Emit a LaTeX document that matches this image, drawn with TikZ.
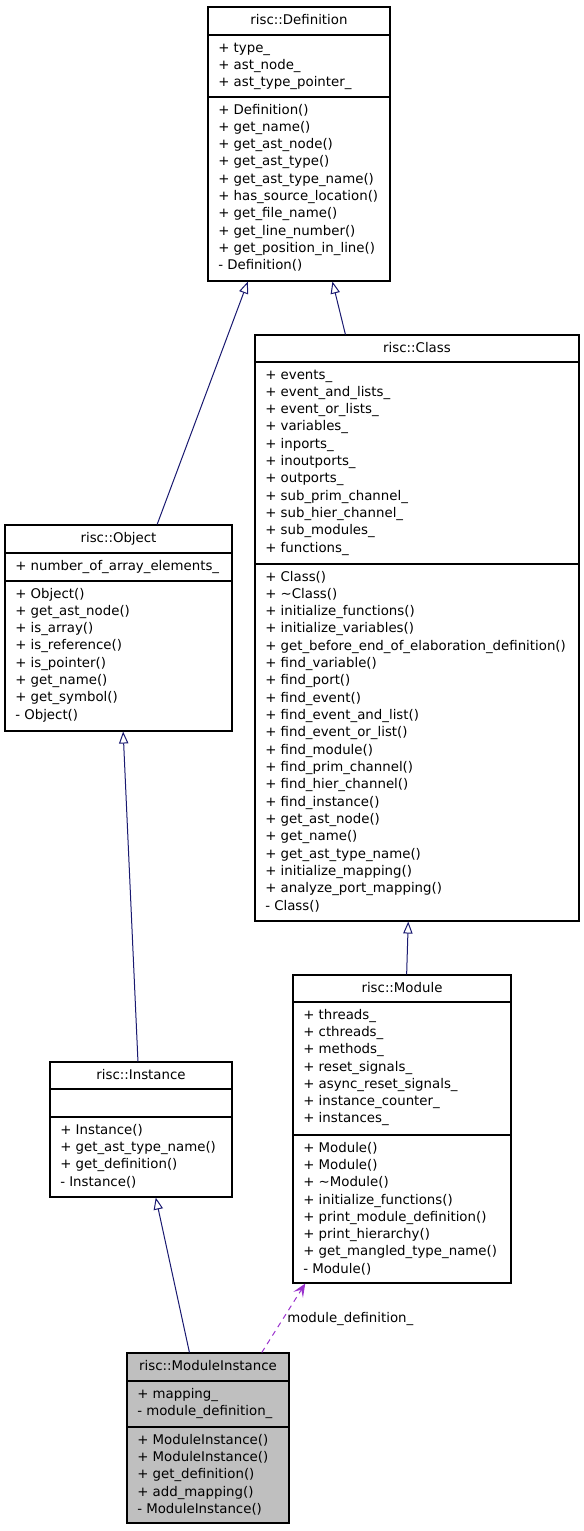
\documentclass[tikz,border=0pt]{standalone}
\usepackage{fontspec}
\setmainfont{DejaVu Sans}
\usetikzlibrary{arrows.meta,fit}
\definecolor{edgeblue}{HTML}{191970}
\definecolor{usepurple}{HTML}{9A32CD}
\definecolor{curgray}{HTML}{BFBFBF}
\newcommand{\umlfont}{\fontsize{10pt}{13pt}\selectfont}
\tikzset{
  cls/.style={draw=black, line width=0.8pt, inner sep=0pt, fill=white},
  clsname/.style={anchor=base, inner sep=0pt, font=\umlfont},
  mem/.style={anchor=base west, inner sep=0pt, font=\umlfont},
  inherit/.style={draw=edgeblue, line width=0.75pt,
    -{Triangle[open, length=9pt, width=7pt]}},
  uses/.style={draw=usepurple, line width=0.75pt, dash pattern=on 4pt off 3.5pt,
    -{Stealth[length=10pt, width=8.5pt, inset=4.5pt]}},
}
\begin{document}
\begin{tikzpicture}[x=0.75pt, y=-0.75pt]
\useasboundingbox (0,0) rectangle (584,1531);

% class boxes
\node[cls, fit={(208,7) (390,281)}] (def) {};
\node[cls, fit={(255,335) (579,921)}] (class) {};
\node[cls, fit={(5,525) (232,731)}] (obj) {};
\node[cls, fit={(50,1062) (232,1197)}] (inst) {};
\node[cls, fit={(293,975) (511,1283)}] (mod) {};
\node[cls, fill=curgray, fit={(127,1353) (289,1523)}] (mi) {};

% compartments
\foreach \b/\y in {def/35, def/97, class/362, class/564, obj/553, obj/581,
                   inst/1089, inst/1117, mod/1002, mod/1135, mi/1381, mi/1427}
  \draw[line width=0.8pt] (\b.west |- 0,\y) -- (\b.east |- 0,\y);

% class names
\node[clsname] (def-t) at (299,24) {risc::Definition};
\node[clsname] (class-t) at (417,352) {risc::Class};
\node[clsname] (obj-t) at (118.5,542) {risc::Object};
\node[clsname] (inst-t) at (141,1079) {risc::Instance};
\node[clsname] (mod-t) at (402,992) {risc::Module};
\node[clsname] (mi-t) at (208,1370) {risc::ModuleInstance};

% risc::Definition
\foreach \t [count=\i from 0] in {+ type\_, + ast\_node\_, + ast\_type\_pointer\_}
  \node[mem] (def-a\i) at (218,{52+17.33*\i}) {\t};
\foreach \t [count=\i from 0] in {+ Definition(), + get\_name(), + get\_ast\_node(),
    + get\_ast\_type(), + get\_ast\_type\_name(), + has\_source\_location(),
    + get\_file\_name(), + get\_line\_number(), + get\_position\_in\_line(),
    - Definition()}
  \node[mem] (def-m\i) at (218,{114+17.33*\i}) {\t};

% risc::Class
\foreach \t [count=\i from 0] in {+ events\_, + event\_and\_lists\_,
    + event\_or\_lists\_, + variables\_, + inports\_, + inoutports\_,
    + outports\_, + sub\_prim\_channel\_, + sub\_hier\_channel\_,
    + sub\_modules\_, + functions\_}
  \node[mem] (class-a\i) at (265,{379+17.33*\i}) {\t};
\foreach \t [count=\i from 0] in {+ Class(), + \textasciitilde Class(),
    + initialize\_functions(), + initialize\_variables(),
    + get\_before\_end\_of\_elaboration\_definition(), + find\_variable(),
    + find\_port(), + find\_event(), + find\_event\_and\_list(),
    + find\_event\_or\_list(), + find\_module(), + find\_prim\_channel(),
    + find\_hier\_channel(), + find\_instance(), + get\_ast\_node(),
    + get\_name(), + get\_ast\_type\_name(), + initialize\_mapping(),
    + analyze\_port\_mapping(), - Class()}
  \node[mem] (class-m\i) at (265,{581+17.33*\i}) {\t};

% risc::Object
\node[mem] (obj-a0) at (15,570) {+ number\_of\_array\_elements\_};
\foreach \t [count=\i from 0] in {+ Object(), + get\_ast\_node(), + is\_array(),
    + is\_reference(), + is\_pointer(), + get\_name(), + get\_symbol(),
    - Object()}
  \node[mem] (obj-m\i) at (15,{598+17.33*\i}) {\t};

% risc::Instance
\foreach \t [count=\i from 0] in {+ Instance(), + get\_ast\_type\_name(),
    + get\_definition(), - Instance()}
  \node[mem] (inst-m\i) at (60,{1134+17.33*\i}) {\t};

% risc::Module
\foreach \t [count=\i from 0] in {+ threads\_, + cthreads\_, + methods\_,
    + reset\_signals\_, + async\_reset\_signals\_, + instance\_counter\_,
    + instances\_}
  \node[mem] (mod-a\i) at (303,{1019+17.33*\i}) {\t};
\foreach \t [count=\i from 0] in {+ Module(), + Module(), + \textasciitilde Module(),
    + initialize\_functions(), + print\_module\_definition(),
    + print\_hierarchy(), + get\_mangled\_type\_name(), - Module()}
  \node[mem] (mod-m\i) at (303,{1152+17.33*\i}) {\t};

% risc::ModuleInstance
\foreach \t [count=\i from 0] in {+ mapping\_, - module\_definition\_}
  \node[mem] (mi-a\i) at (137,{1398+17.33*\i}) {\t};
\foreach \t [count=\i from 0] in {+ ModuleInstance(), + ModuleInstance(),
    + get\_definition(), + add\_mapping(), - ModuleInstance()}
  \node[mem] (mi-m\i) at (137,{1444+17.33*\i}) {\t};

% relations
\draw[inherit] (obj) -- (def);
\draw[inherit] (class) -- (def);
\draw[inherit] (inst) -- (obj);
\draw[inherit] (mod) -- (class);
\draw[inherit] (mi) -- (inst);
\draw[uses] (mi) -- (mod);
\node[mem] (mi-use) at (287,1322) {module\_definition\_};
\end{tikzpicture}
\end{document}
